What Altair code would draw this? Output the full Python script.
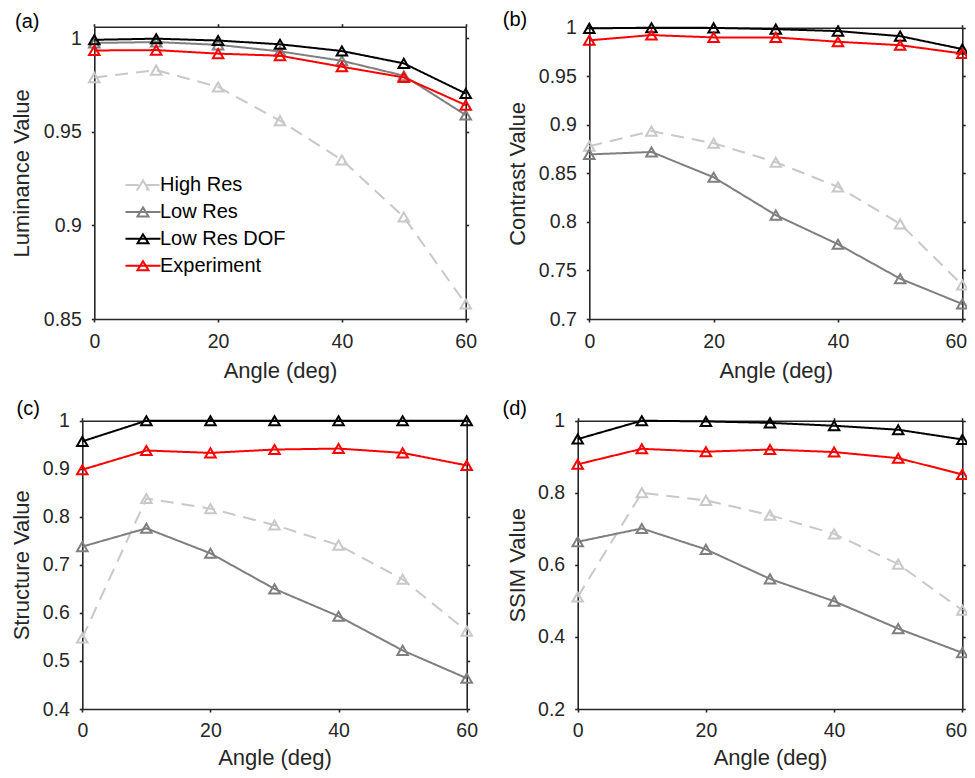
import altair as alt
import pandas as pd

angles = [0, 10, 20, 30, 40, 50, 60]
series_names = ["High Res", "Low Res", "Low Res DOF", "Experiment"]
series_colors = ["#c8c8c8", "#7f7f7f", "#000000", "#ff0000"]
series_dashes = [[13, 8], [1, 0], [1, 0], [1, 0]]

# (a) Luminance
lum_high = [0.979, 0.983, 0.974, 0.956, 0.935, 0.9045, 0.858]
lum_low = [0.9975, 0.998, 0.9965, 0.993, 0.988, 0.980, 0.959]
lum_dof = [0.9992, 0.9998, 0.9988, 0.9968, 0.9932, 0.9866, 0.9705]
lum_exp = [0.9935, 0.9937, 0.9918, 0.9907, 0.9848, 0.9791, 0.9643]

# (b) Contrast
con_high = [0.878, 0.8935, 0.881, 0.8615, 0.836, 0.798, 0.735]
con_low = [0.8695, 0.872, 0.846, 0.807, 0.777, 0.7415, 0.7155]
con_dof = [0.9993, 1.0, 0.9998, 0.9985, 0.9965, 0.9913, 0.978]
con_exp = [0.987, 0.9924, 0.990, 0.990, 0.9855, 0.982, 0.9734]

# (c) Structure
str_high = [0.548, 0.838, 0.817, 0.783, 0.741, 0.670, 0.562]
str_low = [0.738, 0.776, 0.724, 0.650, 0.593, 0.522, 0.464]
str_dof = [0.957, 1.0, 1.0, 1.0, 1.0, 1.0, 1.0]
str_exp = [0.898, 0.938, 0.933, 0.940, 0.942, 0.933, 0.907]

# (d) SSIM
ssim_high = [0.511, 0.800, 0.779, 0.738, 0.686, 0.602, 0.474]
ssim_low = [0.664, 0.701, 0.643, 0.561, 0.499, 0.423, 0.356]
ssim_dof = [0.949, 1.0, 0.998, 0.994, 0.986, 0.975, 0.948]
ssim_exp = [0.879, 0.922, 0.914, 0.920, 0.913, 0.896, 0.851]

x_ticks = [0, 20, 40, 60]

# ---- layout (pixels, chart coordinates) ----
W, H = 959, 762
FONT = "Liberation Sans"
TXT = "#262626"

panels = [
    dict(label="(a)", ytitle="Luminance Value", ydomain=[0.85, 1.0062],
         yticks=[0.85, 0.9, 0.95, 1], data=[lum_high, lum_low, lum_dof, lum_exp],
         xl=86.3, xr=457.7, yt=18.7, yb=311.0, lab=(6.5, 0.8), ytx=20.5,
         xlp=25.5, xtb=58.5, right=False),
    dict(label="(b)", ytitle="Contrast Value", ydomain=[0.7, 1.0],
         yticks=[0.7, 0.75, 0.8, 0.85, 0.9, 0.95, 1], data=[con_high, con_low, con_dof, con_exp],
         xl=581.3, xr=954.3, yt=19.7, yb=311.0, lab=(494.3, -1.9), ytx=516.0,
         xlp=25.5, xtb=58.5, right=True),
    dict(label="(c)", ytitle="Structure Value", ydomain=[0.4, 1.0],
         yticks=[0.4, 0.5, 0.6, 0.7, 0.8, 0.9, 1], data=[str_high, str_low, str_dof, str_exp],
         xl=74.3, xr=458.7, yt=412.7, yb=701.0, lab=(8.0, -6.4), ytx=20.5,
         xlp=24.5, xtb=55.5, right=False),
    dict(label="(d)", ytitle="SSIM Value", ydomain=[0.2, 1.0],
         yticks=[0.2, 0.4, 0.6, 0.8, 1], data=[ssim_high, ssim_low, ssim_dof, ssim_exp],
         xl=569.7, xr=954.3, yt=412.7, yb=701.0, lab=(494.0, -6.4), ytx=516.0,
         xlp=24.5, xtb=55.5, right=True),
]

color_scale = alt.Scale(domain=series_names, range=series_colors)
dash_scale = alt.Scale(domain=series_names, range=series_dashes)
legend = alt.Legend(
    title=None,
    orient="none",
    legendX=124,
    legendY=166,
    symbolType="M-1.75,0L1.75,0M0,-0.45L0.55,0.45L-0.55,0.45Z",
    symbolSize=400,
    symbolStrokeWidth=2,
    labelFontSize=20,
    labelFont=FONT,
    labelColor="#000000",
    labelOffset=6,
    rowPadding=5.9,
    padding=0,
)


def panel_layers(p):
    rows = []
    for name, vals in zip(series_names, p["data"]):
        for a, v in zip(angles, vals):
            rows.append({"angle": a, "value": v, "series": name})
    df = pd.DataFrame(rows)
    xs = alt.Scale(domain=[0, 60], range=[p["xl"], p["xr"]], nice=False)
    ys = alt.Scale(domain=p["ydomain"], range=[p["yb"], p["yt"]], nice=False, zero=False)
    base = alt.Chart(df)
    last_shift = ({"condition": {"test": "datum.value == 60", "value": -6.5}, "value": 0}
                  if p["right"] else 0)
    main_axes = base.mark_point(opacity=0).encode(
        x=alt.X("angle:Q", scale=xs, axis=alt.Axis(
            orient="bottom", offset=p["yb"] - H, values=x_ticks, labelFlush=False,
            labelBaseline="alphabetic", labelPadding=p["xlp"], labelOffset=last_shift,
            title="Angle (deg)", titleX=(p["xl"] + p["xr"]) / 2, titleY=p["xtb"],
            titleAlign="center", titleBaseline="alphabetic")),
        y=alt.Y("value:Q", scale=ys, axis=alt.Axis(
            orient="left", offset=-p["xl"], values=p["yticks"], format="~g",
            labelFlush=False, labelPadding=10,
            title=p["ytitle"], titleAngle=-90, titleX=p["ytx"] - p["xl"],
            titleY=(p["yt"] + p["yb"]) / 2, titleAlign="center",
            titleBaseline="alphabetic")),
    )
    mirror_axes = base.mark_point(opacity=0).encode(
        x=alt.X("angle:Q", scale=xs, axis=alt.Axis(
            orient="top", offset=-p["yt"], values=x_ticks, labels=False,
            title=p["label"], titleX=p["lab"][0], titleY=p["lab"][1],
            titleAlign="left", titleBaseline="alphabetic", titleAngle=0,
            titleFontSize=20, titleColor="#000000")),
        y=alt.Y("value:Q", scale=ys, axis=alt.Axis(
            orient="right", offset=p["xr"] - W, values=p["yticks"], labels=False,
            title=None)),
    )
    layers = [main_axes, mirror_axes]
    for name in series_names:
        sub = base.transform_filter(alt.datum.series == name)
        line = sub.mark_line(strokeWidth=2).encode(
            x=alt.X("angle:Q", scale=xs, axis=None),
            y=alt.Y("value:Q", scale=ys, axis=None),
            color=alt.Color("series:N", scale=color_scale, legend=legend),
            strokeDash=alt.StrokeDash("series:N", scale=dash_scale, legend=legend),
        )
        pts = sub.mark_point(shape="triangle-up", filled=False, size=110,
                             strokeWidth=2, opacity=1).encode(
            x=alt.X("angle:Q", scale=xs, axis=None),
            y=alt.Y("value:Q", scale=ys, axis=None),
            color=alt.Color("series:N", scale=color_scale, legend=legend),
        )
        layers += [line, pts]
    return layers


all_layers = []
for p in panels:
    all_layers += panel_layers(p)

chart = alt.layer(*all_layers).resolve_scale(
    x="independent", y="independent"
).properties(
    width=W,
    height=H,
    padding=0,
    autosize=alt.AutoSizeParams(type="none"),
).configure_view(
    stroke=None,
).configure_axis(
    grid=False,
    domainColor="#262626",
    domainWidth=1.6,
    tickColor="#262626",
    tickWidth=1.6,
    tickSize=3,
    labelFont=FONT,
    labelFontSize=19.5,
    labelColor=TXT,
    titleFont=FONT,
    titleFontSize=22,
    titleFontWeight="normal",
    titleColor=TXT,
).configure_legend(
    symbolFillColor="transparent",
)

chart.save("out.html", embed_options={"renderer": "svg", "actions": False})
